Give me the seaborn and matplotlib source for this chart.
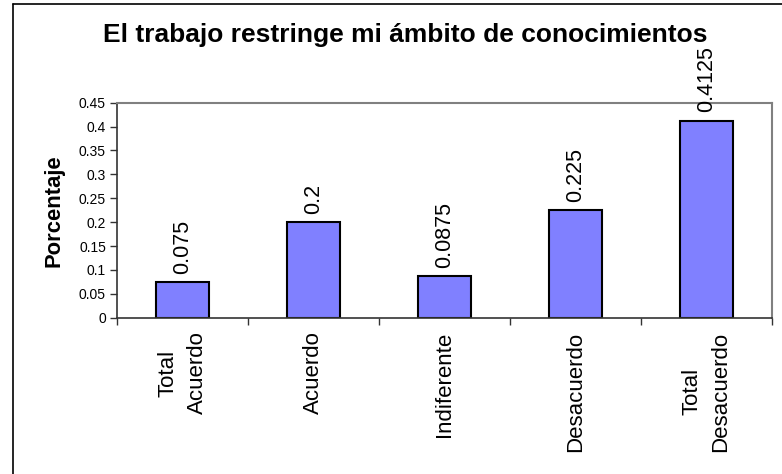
import matplotlib
matplotlib.use("Agg")
import matplotlib.pyplot as plt
import seaborn as sns
import pandas as pd
from matplotlib.lines import Line2D

categories = ["Total\nAcuerdo", "Acuerdo", "Indiferente", "Desacuerdo", "Total\nDesacuerdo"]
values = [0.075, 0.2, 0.0875, 0.225, 0.4125]
value_labels = ["0.075", "0.2", "0.0875", "0.225", "0.4125"]
yticks = [0, 0.05, 0.1, 0.15, 0.2, 0.25, 0.3, 0.35, 0.4, 0.45]
ytick_labels = ["0", "0.05", "0.1", "0.15", "0.2", "0.25", "0.3", "0.35", "0.4", "0.45"]
title = "El trabajo restringe mi ámbito de conocimientos"
ylabel = "Porcentaje"

sns.set_style("white")
plt.rcParams['font.family'] = ['Liberation Sans', 'DejaVu Sans']
plt.rcParams.update({"text.color": "black", "axes.labelcolor": "black",
                     "xtick.color": "black", "ytick.color": "black"})

df = pd.DataFrame({"cat": categories, "val": values})

W, H = 782, 474
fig = plt.figure(figsize=(W / 100, H / 100), dpi=100)
ax = fig.add_axes([117 / W, 1 - 317.7 / H, (772 - 117) / W, (317.7 - 102.7) / H])

sns.barplot(data=df, x="cat", y="val", color="#8080FF", saturation=1,
            edgecolor="black", linewidth=1.5, width=0.41, ax=ax)

ax.set_ylim(0, 0.45)
ax.set_xlim(-0.5, len(categories) - 0.5)
ax.set_yticks(yticks)
ax.set_yticklabels(ytick_labels, fontsize=10, color="black")
ax.tick_params(axis="y", direction="out", length=5, width=1, color="#333333", pad=3, left=True)
ax.set_xticks(range(len(categories)))
ax.set_xticklabels(categories, rotation=90, fontsize=16, va="top", ha="center",
                   multialignment="center", linespacing=1.5, color="black")
ax.tick_params(axis="x", length=0, pad=10)
ax.set_xticks([i - 0.5 for i in range(len(categories) + 1)], minor=True)
ax.tick_params(axis="x", which="minor", direction="out", length=5, width=1, color="#333333", bottom=True)

ax.set_xlabel("")
ax.set_ylabel(ylabel, fontsize=15.8, fontweight="bold", labelpad=10, color="black")

for s in ["top", "right"]:
    ax.spines[s].set_visible(True)
    ax.spines[s].set_color("#808080")
    ax.spines[s].set_linewidth(1.5)
for s in ["left", "bottom"]:
    ax.spines[s].set_visible(True)
    ax.spines[s].set_color("#333333")
    ax.spines[s].set_linewidth(1.2)

ax.bar_label(ax.containers[0], labels=value_labels, rotation=90, padding=6, fontsize=15.5,
             clip_on=False, color="black")

fig.text(405 / W, 1 - 42 / H, title, fontsize=19, fontweight="bold", ha="center", va="baseline",
         color="black")

fig.add_artist(Line2D([13 / W, 13 / W], [0, 1 - 4 / H], transform=fig.transFigure, color="black", lw=1.2))
fig.add_artist(Line2D([13 / W, 1], [1 - 4 / H, 1 - 4 / H], transform=fig.transFigure, color="black", lw=1.2))

fig.savefig("out.png", dpi=100, facecolor="white")
